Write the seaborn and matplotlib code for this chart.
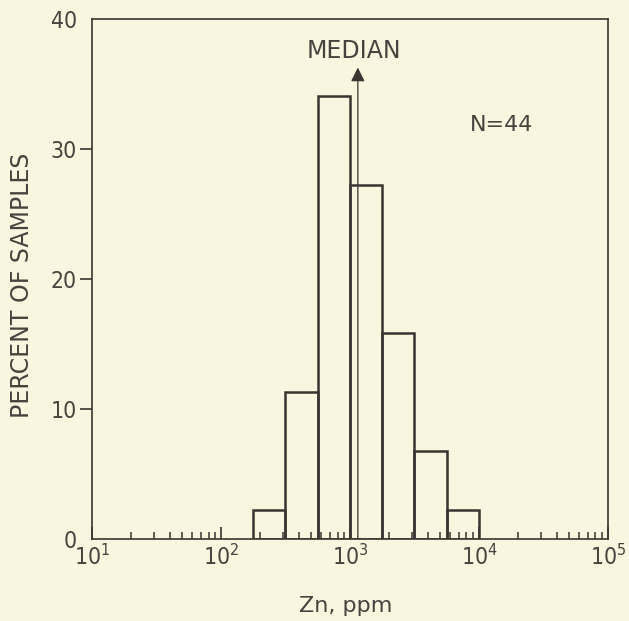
import numpy as np
import pandas as pd
import matplotlib
matplotlib.use("Agg")
import matplotlib.pyplot as plt
import seaborn as sns
from matplotlib.ticker import FixedLocator, FixedFormatter, LogLocator, NullFormatter

# ---- data ----
bin_edges = [178, 316, 562, 1000, 1778, 3162, 5623, 10000]
bin_centers = [237, 421, 750, 1333, 2371, 4217, 7499]
counts = [1, 5, 15, 12, 7, 3, 1]
n_samples = 44
percent = [c / n_samples * 100 for c in counts]
median_zn = 1150
y_ticks = [0, 10, 20, 30, 40]
y_tick_labels = ["0", "10", "20", "30", "40"]
x_decades = [10, 100, 1000, 10000, 100000]
x_tick_labels = ["$10^{1}$", "$10^{2}$", "$10^{3}$", "$10^{4}$", "$10^{5}$"]

# ---- style ----
sns.set_theme(style="white")
plt.rcParams['font.family'] = ['DejaVu Sans']
plt.rcParams['font.stretch'] = 'condensed'
plt.rcParams['mathtext.fontset'] = 'dejavusans'
bg = "#f9f5df"
ink = "#3a3530"
text_c = "#46423d"

fig = plt.figure(figsize=(6.29, 6.21), dpi=100, facecolor=bg)
ax = fig.add_axes([0.1463, 0.1314, 0.8203, 0.8372])
ax.set_facecolor(bg)

df = pd.DataFrame({"zn": bin_centers, "pct": percent})
log_bins = [float(v) for v in np.log10(bin_edges)]
sns.histplot(data=df, x="zn", weights="pct", bins=log_bins,
             log_scale=True, fill=False, element="bars", color=ink,
             linewidth=1.8, ax=ax)

ax.set_xlim(10, 1e5)
ax.set_ylim(0, 40)

# median arrow
ax.annotate("", xy=(median_zn, 36.3), xytext=(median_zn, 0),
            arrowprops=dict(arrowstyle="-|>,head_length=0.6,head_width=0.3",
                            color=ink, lw=0.9, mutation_scale=14,
                            shrinkA=0, shrinkB=0))
ax.text(median_zn * 0.93, 37.6, "MEDIAN", ha="center", va="center",
        fontsize=17, fontstretch='normal', color=text_c)
ax.text(15070, 31.9, "N=44", ha="center", va="center", fontsize=16,
        fontstretch='normal', color=text_c)

# ticks
ax.xaxis.set_major_locator(FixedLocator(x_decades))
ax.xaxis.set_major_formatter(FixedFormatter(x_tick_labels))
ax.xaxis.set_minor_locator(LogLocator(base=10, subs=range(2, 10)))
ax.xaxis.set_minor_formatter(NullFormatter())
ax.tick_params(axis='x', which='major', direction='in', length=9, width=1.2,
               color=ink, labelcolor=text_c, labelsize=16.5, pad=4,
               bottom=True, top=False)
ax.tick_params(axis='x', which='minor', direction='in', length=5, width=1.1,
               color=ink, bottom=True, top=False)
ax.yaxis.set_major_locator(FixedLocator(y_ticks))
ax.yaxis.set_major_formatter(FixedFormatter(y_tick_labels))
ax.tick_params(axis='y', which='major', direction='out', length=9, width=1.2,
               color=ink, labelcolor=text_c, labelsize=16.5, pad=2, left=True)
yt = ax.yaxis.get_major_ticks()
yt[0].tick1line.set_visible(False)
yt[-1].tick1line.set_visible(False)

for s in ax.spines.values():
    s.set_visible(True)
    s.set_color(ink)
    s.set_linewidth(1.2)

ax.set_ylabel("PERCENT OF SAMPLES", fontsize=17, fontstretch='normal', color=text_c)
ax.yaxis.set_label_coords(-0.112, 0.488)
ax.set_xlabel("Zn, ppm", fontsize=16, fontstretch='normal', color=text_c)
ax.xaxis.set_label_coords(0.492, -0.108)

fig.savefig("out.png", dpi=100, facecolor=bg)
